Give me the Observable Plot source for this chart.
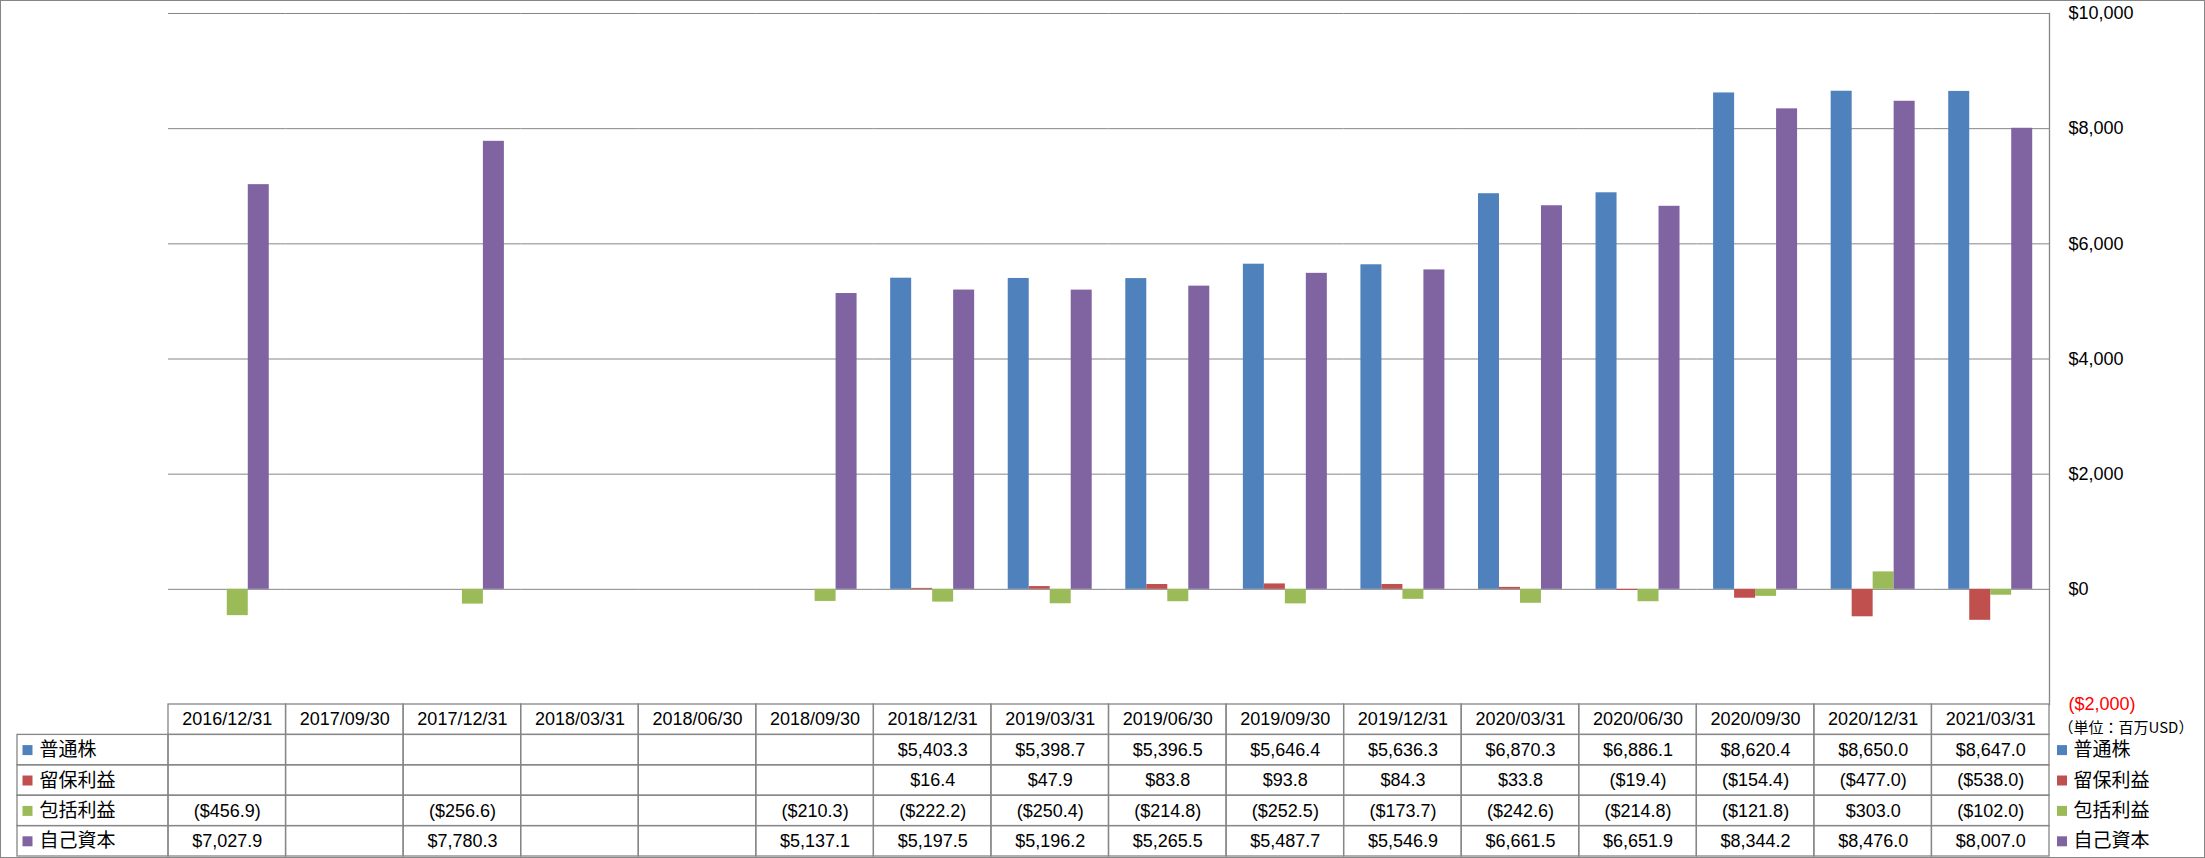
<!DOCTYPE html>
<html><head><meta charset="utf-8">
<script src="https://cdn.jsdelivr.net/npm/d3@7"></script>
<script src="https://cdn.jsdelivr.net/npm/@observablehq/plot@0.6"></script>
<style>
body{margin:0;background:#fff;}
#border{position:absolute;left:0;top:0;width:2205px;height:858px;box-sizing:border-box;border:1px solid #868686;}
#chart{position:absolute;left:0;top:0;}
#table{position:absolute;left:0;top:704px;}
svg{overflow:visible;}
</style></head><body>
<div id="border"></div>
<div id="chart"></div>
<div id="table"></div>
<script>
// ---- data ----
const categories = ["2016/12/31","2017/09/30","2017/12/31","2018/03/31","2018/06/30","2018/09/30","2018/12/31","2019/03/31","2019/06/30","2019/09/30","2019/12/31","2020/03/31","2020/06/30","2020/09/30","2020/12/31","2021/03/31"];
const seriesNames = ["普通株","留保利益","包括利益","自己資本"];
const seriesColors = ["#4F81BD","#C0504D","#9BBB59","#8064A2"];
const commonStock = [null,null,null,null,null,null,5403.3,5398.7,5396.5,5646.4,5636.3,6870.3,6886.1,8620.4,8650.0,8647.0];
const retainedEarnings = [null,null,null,null,null,null,16.4,47.9,83.8,93.8,84.3,33.8,-19.4,-154.4,-477.0,-538.0];
const comprehensiveIncome = [-456.9,null,-256.6,null,null,-210.3,-222.2,-250.4,-214.8,-252.5,-173.7,-242.6,-214.8,-121.8,303.0,-102.0];
const equity = [7027.9,null,7780.3,null,null,5137.1,5197.5,5196.2,5265.5,5487.7,5546.9,6661.5,6651.9,8344.2,8476.0,8007.0];
const yTicks = [-2000,0,2000,4000,6000,8000,10000];
const unitLabel = "（単位：百万USD）";

// ---- layout ----
const W = 2205;
const plotLeft = 168, plotRight = 2049, tableLeft = 17;
const colW = (plotRight - plotLeft) / categories.length;
const labelCols = (plotLeft - tableLeft) / colW;
const latin = "'Liberation Sans', Arial, sans-serif";
const cjk = "'Noto Sans CJK JP', sans-serif";
const gridColor = "#868686";

const seriesValues = [commonStock, retainedEarnings, comprehensiveIncome, equity];
const rows = [];
categories.forEach((c, i) => seriesValues.forEach((arr, k) => {
  if (arr[i] != null) rows.push({cat: c, series: seriesNames[k], value: arr[i]});
}));
const gridRows = [];
categories.forEach(c => yTicks.filter(t => t > -2000).forEach(t => gridRows.push({cat: c, t})));

const fmtVal = v => v < 0 ? `($${d3.format(",.1f")(-v)})` : `$${d3.format(",.1f")(v)}`;
const fmtTick = v => v < 0 ? `($${d3.format(",")(-v)})` : `$${d3.format(",")(v)}`;

const chart = Plot.plot({
  width: W, height: 704,
  marginTop: 13, marginBottom: 0, marginLeft: plotLeft, marginRight: W - plotRight,
  style: {background: "transparent", overflow: "visible", fontFamily: latin, fontSize: "18px", color: "#000"},
  fx: {domain: categories, padding: 0, round: false, axis: null},
  x: {domain: seriesNames, paddingInner: 0, paddingOuter: 0.8, round: false, axis: null},
  y: {domain: [-2000, 10000], axis: null},
  color: {domain: seriesNames, range: seriesColors},
  marks: [
    Plot.ruleY(gridRows, {fx: "cat", y: "t", stroke: gridColor, strokeWidth: 1}),
    Plot.barY(rows, {fx: "cat", x: "series", y: "value", fill: "series", inset: 0}),
    Plot.frame({anchor: "right", facetAnchor: "right", stroke: gridColor, strokeWidth: 1.3}),
    Plot.text(yTicks.filter(t => t >= 0), {fx: () => categories[categories.length - 1], y: d => d, text: fmtTick,
      frameAnchor: "right", dx: 19, textAnchor: "start", fontSize: 18, fill: "#000"}),
    Plot.text(yTicks.filter(t => t < 0), {fx: () => categories[categories.length - 1], y: d => d, text: fmtTick,
      frameAnchor: "right", dx: 19, textAnchor: "start", fontSize: 18, fill: "#FF0000"})
  ]
});
document.getElementById("chart").appendChild(chart);

// ---- data table ----
const tableRows = ["header", ...seriesNames];
const cells = [];
categories.forEach((c, i) => {
  cells.push({i, row: "header", text: c});
  seriesValues.forEach((arr, k) => cells.push({i, row: seriesNames[k], text: arr[i] == null ? "" : fmtVal(arr[i])}));
});

const table = Plot.plot({
  width: W, height: 153,
  marginTop: 0, marginBottom: 1, marginLeft: tableLeft, marginRight: W - plotRight,
  style: {background: "transparent", overflow: "visible", fontFamily: latin, fontSize: "18px", color: "#000"},
  x: {domain: [-labelCols, categories.length], axis: null},
  y: {domain: tableRows, padding: 0, round: false, axis: null},
  color: {domain: seriesNames, range: seriesColors},
  marks: [
    Plot.barX(cells, {x1: "i", x2: d => d.i + 1, y: "row", fill: "none", stroke: gridColor, strokeWidth: 1.3, inset: 0}),
    Plot.barX(seriesNames, {x1: () => -labelCols, x2: () => 0, y: d => d, fill: "none", stroke: gridColor, strokeWidth: 1.3, inset: 0}),
    Plot.text(cells, {x: d => d.i + 0.5, y: "row", text: "text", fontSize: 18, fill: "#000"}),
    Plot.dot(seriesNames, {x: () => -labelCols, y: d => d, dx: 10, symbol: "square", r: 5.64, fill: d => d, stroke: null}),
    Plot.text(seriesNames, {x: () => -labelCols, y: d => d, dx: 22, text: d => d, textAnchor: "start", fontSize: 19, fontFamily: cjk, fill: "#000"}),
    Plot.dot(seriesNames, {x: () => categories.length, y: d => d, dx: 12.5, symbol: "square", r: 5.64, fill: d => d, stroke: null}),
    Plot.text(seriesNames, {x: () => categories.length, y: d => d, dx: 24, text: d => d, textAnchor: "start", fontSize: 19, fontFamily: cjk, fill: "#000"}),
    Plot.text([unitLabel], {x: () => categories.length, y: () => "header", dx: 9, dy: 8, text: d => d, textAnchor: "start", fontSize: 15, fontFamily: cjk, fill: "#000"})
  ]
});
document.getElementById("table").appendChild(table);
</script>
</body></html>
